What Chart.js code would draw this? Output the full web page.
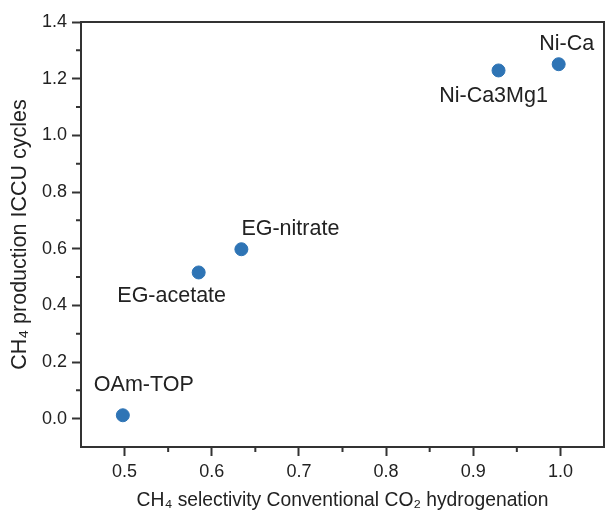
<!DOCTYPE html>
<html>
<head>
<meta charset="utf-8">
<script src="https://cdn.jsdelivr.net/npm/chart.js@4/dist/chart.umd.min.js"></script>
<style>
  body { margin: 0; background: #fff; }
  canvas { display: block; }
</style>
</head>
<body>
<canvas id="chart" width="606" height="513"></canvas>
<script>
(function () {

    'use strict';

    // sample names and their values
    const samples = ['OAm-TOP', 'EG-acetate', 'EG-nitrate', 'Ni-Ca3Mg1', 'Ni-Ca'];
    const selectivity = [0.498, 0.585, 0.634, 0.929, 0.998];
    const iccuProduction = [0.012, 0.516, 0.598, 1.229, 1.251];

    // tick labels
    const xTicks = [0.5, 0.6, 0.7, 0.8, 0.9, 1.0];
    const yTicks = [0.0, 0.2, 0.4, 0.6, 0.8, 1.0, 1.2, 1.4];
    const xMinor = [0.55, 0.65, 0.75, 0.85, 0.95];
    const yMinor = [0.1, 0.3, 0.5, 0.7, 0.9, 1.1, 1.3];

    const axisColor = '#333';
    const textColor = '#222';
    const fontFamily = '"Liberation Sans", Arial, sans-serif';

    // where each name sits relative to its point (dx, dy)
    const labelOffsets = [[21, -30], [-27, 24], [49, -20], [-5, 26], [8, -20]];

    let points = selectivity.map((x, i) => ({ x: x, y: iccuProduction[i] }));

    // draws the frame, the minor ticks and the point names
    const extras = {
        id: 'extras',
        afterDraw(chart) {
            let ctx = chart.ctx;
            let area = chart.chartArea;
            let xs = chart.scales.x;
            let ys = chart.scales.y;
            ctx.save();
            ctx.strokeStyle = axisColor;
            ctx.lineWidth = 2;
            ctx.beginPath();
            ctx.moveTo(area.left, area.top);
            ctx.lineTo(area.right, area.top);
            ctx.lineTo(area.right, area.bottom);
            ctx.stroke();

            ctx.beginPath();
            xMinor.forEach(v => {
                let px = xs.getPixelForValue(v);
                ctx.moveTo(px, area.bottom);
                ctx.lineTo(px, area.bottom + 5);
            });
            yMinor.forEach(v => {
                let py = ys.getPixelForValue(v);
                ctx.moveTo(area.left, py);
                ctx.lineTo(area.left - 5, py);
            });
            ctx.stroke();

            let meta = chart.getDatasetMeta(0);
            ctx.fillStyle = textColor;
            ctx.font = '21.5px ' + fontFamily;
            ctx.textAlign = 'center';
            ctx.textBaseline = 'middle';
            meta.data.forEach((el, i) => {
                let off = labelOffsets[i];
                ctx.fillText(samples[i], el.x + off[0], el.y + off[1]);
            });
            ctx.restore();
        }
    };

    let config = {
        type: 'scatter',
        data: {
            datasets: [{
                data: points,
                backgroundColor: '#2e74b5',
                borderColor: '#2e74b5',
                pointRadius: 6.5,
                pointHoverRadius: 6.5
            }]
        },
        options: {
            responsive: false,
            animation: false,
            layout: { autoPadding: false, padding: { top: 22, right: 2, left: 0, bottom: 0 } },
            plugins: {
                legend: { display: false },
                tooltip: { enabled: false }
            },
            scales: {
                x: {
                    type: 'linear',
                    min: 0.45,
                    max: 1.05,
                    afterBuildTicks: s => { s.ticks = xTicks.map(v => ({ value: v })); },
                    afterFit: s => {
                        s.height = 66;
                        s.paddingLeft = 0;
                        s.paddingRight = 0;
                    },
                    grid: { drawOnChartArea: false, tickLength: 9, tickWidth: 2, tickColor: axisColor },
                    border: { color: axisColor, width: 2 },
                    ticks: {
                        color: textColor,
                        padding: 5,
                        maxRotation: 0,
                        font: { family: fontFamily, size: 18 },
                        callback: v => v.toFixed(1)
                    },
                    title: {
                        display: true,
                        text: 'CH\u2084 selectivity Conventional CO\u2082 hydrogenation',
                        color: textColor,
                        font: { family: fontFamily, size: 19.3 },
                        padding: { top: 0, bottom: 1 }
                    }
                },
                y: {
                    type: 'linear',
                    min: -0.1,
                    max: 1.4,
                    afterBuildTicks: s => { s.ticks = yTicks.map(v => ({ value: v })); },
                    afterFit: s => {
                        s.width = 81;
                        s.paddingTop = 0;
                        s.paddingBottom = 0;
                    },
                    grid: { drawOnChartArea: false, tickLength: 9, tickWidth: 2, tickColor: axisColor },
                    border: { color: axisColor, width: 2 },
                    ticks: {
                        color: textColor,
                        padding: 5,
                        font: { family: fontFamily, size: 18 },
                        callback: v => v.toFixed(1)
                    },
                    title: {
                        display: true,
                        text: 'CH\u2084 production ICCU cycles',
                        color: textColor,
                        font: { family: fontFamily, size: 21.5 },
                        padding: { top: 7, bottom: 0 }
                    }
                }
            }
        },
        plugins: [extras]
    };

    new Chart(document.getElementById('chart'), config);

})();
</script>
</body>
</html>
